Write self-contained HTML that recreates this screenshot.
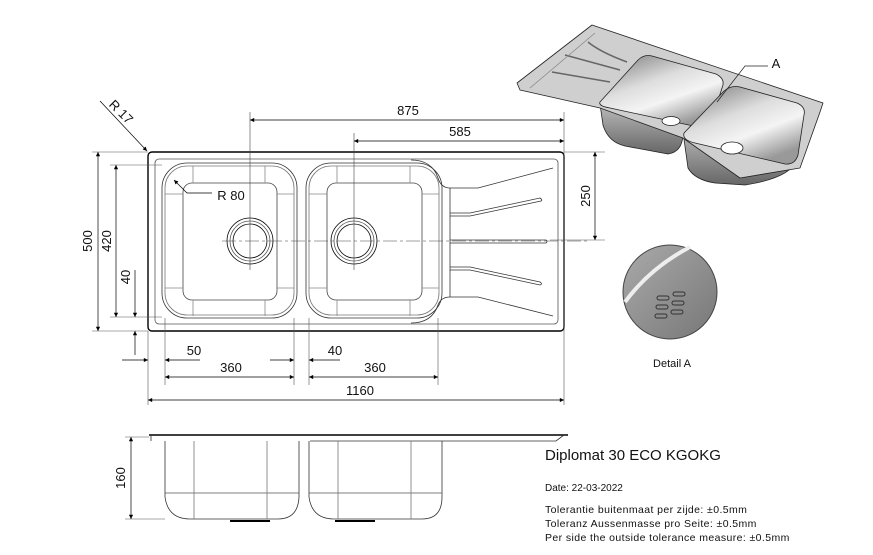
<!DOCTYPE html>
<html><head><meta charset="utf-8"><style>
html,body{margin:0;padding:0;background:#fff;}
svg{display:block;font-family:"Liberation Sans",Arial,sans-serif;}
</style></head><body>
<svg width="873" height="555" viewBox="0 0 873 555" xmlns="http://www.w3.org/2000/svg">
<defs>
<marker id="a" viewBox="0 0 10 10" refX="10" refY="5" markerWidth="9" markerHeight="6" orient="auto-start-reverse"><path d="M0,0 L10,5 L0,10 z" fill="#000"/></marker>
<linearGradient id="gb" x1="0" y1="0" x2="0.6" y2="1"><stop offset="0" stop-color="#777"/><stop offset="0.45" stop-color="#ddd"/><stop offset="0.7" stop-color="#f4f4f4"/><stop offset="1" stop-color="#999"/></linearGradient>
<linearGradient id="gu" x1="0" y1="0" x2="0" y2="1"><stop offset="0" stop-color="#bbb"/><stop offset="1" stop-color="#666"/></linearGradient>
<linearGradient id="gc" x1="0" y1="0" x2="1" y2="1"><stop offset="0" stop-color="#aaa"/><stop offset="1" stop-color="#777"/></linearGradient>
</defs>
<g fill="none" stroke="#000" stroke-width="0.8">
<rect x="148" y="152" width="416" height="179" rx="4" stroke-width="1.4"/>
<rect x="155" y="159" width="403" height="165" rx="4" stroke="#555"/>
<rect x="162" y="163" width="135" height="155" rx="25" stroke="#333"/>
<rect x="165" y="166" width="129" height="149" rx="22" stroke="#777"/>
<rect x="183" y="183" width="94" height="117" rx="9" stroke="#444"/>
<line x1="193" y1="166" x2="193" y2="183" stroke="#888"/><line x1="265" y1="166" x2="265" y2="183" stroke="#888"/>
<line x1="193" y1="300" x2="193" y2="316" stroke="#888"/><line x1="265" y1="300" x2="265" y2="316" stroke="#888"/>
<line x1="165" y1="194" x2="183" y2="194" stroke="#888"/><line x1="165" y1="288" x2="183" y2="288" stroke="#888"/>
<line x1="277" y1="194" x2="294" y2="194" stroke="#888"/><line x1="277" y1="288" x2="294" y2="288" stroke="#888"/>
<circle cx="250" cy="241" r="23"/><circle cx="250" cy="241" r="20" stroke="#555"/><circle cx="250" cy="241" r="17"/>
<rect x="306" y="163" width="136" height="155" rx="25" stroke="#333"/>
<rect x="309" y="166" width="130" height="149" rx="22" stroke="#777"/>
<rect x="327" y="183" width="95" height="117" rx="9" stroke="#444"/>
<line x1="337" y1="166" x2="337" y2="183" stroke="#888"/><line x1="410" y1="166" x2="410" y2="183" stroke="#888"/>
<line x1="337" y1="300" x2="337" y2="316" stroke="#888"/><line x1="410" y1="300" x2="410" y2="316" stroke="#888"/>
<line x1="309" y1="194" x2="327" y2="194" stroke="#888"/><line x1="309" y1="288" x2="327" y2="288" stroke="#888"/>
<line x1="422" y1="194" x2="439" y2="194" stroke="#888"/><line x1="422" y1="288" x2="439" y2="288" stroke="#888"/>
<circle cx="354" cy="241" r="23"/><circle cx="354" cy="241" r="20" stroke="#555"/><circle cx="354" cy="241" r="17"/>
<path d="M411,160 Q432,160 438,178 Q441,188 450,188 L478,188 L553,168 M411,323 Q432,323 438,305 Q441,297 450,297 L478,297 L553,316" stroke="#333"/>
<line x1="450" y1="188" x2="450" y2="297" stroke="#333"/>
<path d="M450,213 L470,213 L540,198 Q543,200 541,201 L470,216 L450,216" stroke="#333"/>
<path d="M450,240 L546,240 Q548,241.5 546,243 L450,243" stroke="#333"/>
<path d="M450,267 L470,267 L540,282 Q543,284 540,285 L470,270 L450,270" stroke="#333"/>
<g stroke="#444" stroke-width="0.6">
<line x1="222" y1="241" x2="590" y2="241" stroke-dasharray="14,3,3,3"/>
<line x1="250" y1="112" x2="250" y2="270"/>
<line x1="354" y1="133" x2="354" y2="270"/>
</g>
<g stroke="#555" stroke-width="0.6">
<line x1="564" y1="112" x2="564" y2="405"/>
<line x1="564" y1="152" x2="605" y2="152"/><line x1="550" y1="240" x2="605" y2="240"/>
<line x1="92" y1="152" x2="148" y2="152"/><line x1="92" y1="331" x2="148" y2="331"/>
<line x1="110" y1="165" x2="162" y2="165"/><line x1="110" y1="317" x2="162" y2="317"/>
<line x1="148" y1="331" x2="148" y2="405"/><line x1="165" y1="318" x2="165" y2="385"/>
<line x1="294" y1="318" x2="294" y2="385"/><line x1="309" y1="318" x2="309" y2="385"/>
<line x1="438" y1="318" x2="438" y2="385"/>
</g>
<g stroke="#000" stroke-width="0.7">
<line x1="250" y1="120" x2="564" y2="120" marker-start="url(#a)" marker-end="url(#a)"/>
<line x1="354" y1="141" x2="564" y2="141" marker-start="url(#a)" marker-end="url(#a)"/>
<line x1="98" y1="152" x2="98" y2="331" marker-start="url(#a)" marker-end="url(#a)"/>
<line x1="116" y1="165" x2="116" y2="317" marker-start="url(#a)" marker-end="url(#a)"/>
<line x1="135" y1="270" x2="135" y2="317" marker-end="url(#a)"/>
<line x1="135" y1="355" x2="135" y2="331" marker-end="url(#a)"/>
<line x1="122" y1="360" x2="148" y2="360" marker-end="url(#a)"/>
<line x1="200" y1="360" x2="165" y2="360" marker-end="url(#a)"/>
<line x1="165" y1="377" x2="294" y2="377" marker-start="url(#a)" marker-end="url(#a)"/>
<line x1="270" y1="360" x2="294" y2="360" marker-end="url(#a)"/>
<line x1="340" y1="360" x2="309" y2="360" marker-end="url(#a)"/>
<line x1="309" y1="377" x2="438" y2="377" marker-start="url(#a)" marker-end="url(#a)"/>
<line x1="148" y1="400" x2="564" y2="400" marker-start="url(#a)" marker-end="url(#a)"/>
<line x1="595" y1="152" x2="595" y2="240" marker-start="url(#a)" marker-end="url(#a)"/>
<line x1="100" y1="101" x2="147" y2="151" marker-end="url(#a)"/>
<path d="M174,180 L187,193 L212,193" marker-start="url(#a)"/>
</g>
<line x1="149" y1="435" x2="568" y2="435" stroke-width="1.5"/>
<path d="M151,435 L151,441 M564,435 L556,441 L310,441 M165,441 L165,497 Q168,519 190,519 L278,519 Q298,519 299,497 L299,441 M309,441 L309,497 Q312,519 334,519 L422,519 Q442,519 442,497 L442,441" stroke="#333"/>
<line x1="165" y1="493" x2="299" y2="493" stroke="#555"/><line x1="309" y1="493" x2="442" y2="493" stroke="#555"/>
<line x1="194" y1="441" x2="194" y2="519" stroke="#777"/><line x1="267" y1="441" x2="267" y2="519" stroke="#777"/>
<line x1="338" y1="441" x2="338" y2="519" stroke="#777"/><line x1="411" y1="441" x2="411" y2="519" stroke="#777"/>
<line x1="230" y1="521" x2="270" y2="521" stroke-width="2"/><line x1="335" y1="521" x2="375" y2="521" stroke-width="2"/>
<line x1="125" y1="437" x2="149" y2="437" stroke="#555" stroke-width="0.6"/><line x1="125" y1="519" x2="165" y2="519" stroke="#555" stroke-width="0.6"/>
<line x1="131" y1="437" x2="131" y2="519" stroke-width="0.7" marker-start="url(#a)" marker-end="url(#a)"/>
</g>
<!-- iso view -->
<g stroke="#222" stroke-width="0.8" stroke-linejoin="round">
<path d="M600,104 L603,125 Q608,142 625,146 L668,154 Q682,152 683,135 L690,110 Z" fill="url(#gu)"/>
<path d="M683,132 L688,168 Q695,180 715,183 L745,185 Q790,178 797,160 L805,130 Z" fill="url(#gu)"/>
<path d="M517,83 L592,25 L823,103 L820,112 L800,168 L740,178 L683,138 L600,108 L520,90 Z" fill="#cfcfcf"/>
<path d="M600,102 L638,60 Q644,54 652,56 L716,74 Q726,79 722,88 L712,120 Q708,128 698,127 L610,108 Q598,106 600,102 Z" fill="url(#gb)"/>
<path d="M684,133 L724,91 Q731,85 740,87 L797,103 Q806,107 804,115 L798,155 Q795,165 785,164 L695,143 Q682,140 684,133 Z" fill="url(#gb)"/>
<path d="M588,42 Q600,52 627,62 M565,55 L620,70 M552,72 L610,82" stroke="#666" stroke-width="1.5" fill="none"/>
<path d="M530,88 L595,33" stroke="#888" fill="none"/>
<ellipse cx="671" cy="121" rx="9" ry="4.5" fill="#fff"/>
<ellipse cx="732" cy="148" rx="11" ry="6" fill="#fff"/>
<path d="M717,102 L745,66 L768,66" fill="none" stroke-width="0.7"/>
</g>
<circle cx="670" cy="292" r="47" fill="url(#gc)" stroke="#444"/>
<path d="M625,302 Q650,268 690,247" stroke="#eee" stroke-width="4" fill="none"/>
<g stroke="#333" fill="none" stroke-width="1"><rect x="657" y="296" width="12" height="4" rx="2"/><rect x="673" y="292" width="12" height="4" rx="2"/><rect x="656" y="305" width="12" height="4" rx="2"/><rect x="672" y="301" width="12" height="4" rx="2"/><rect x="655" y="314" width="12" height="4" rx="2"/><rect x="671" y="310" width="12" height="4" rx="2"/></g>
<g font-size="13" fill="#111" text-anchor="middle">
<text x="408" y="115">875</text>
<text x="460" y="136">585</text>
<text x="360" y="395">1160</text>
<text x="194" y="355">50</text>
<text x="231" y="372">360</text>
<text x="335" y="355">40</text>
<text x="375" y="372">360</text>
<text x="92" y="241" transform="rotate(-90 92 241)">500</text>
<text x="111" y="241" transform="rotate(-90 111 241)">420</text>
<text x="130" y="277" transform="rotate(-90 130 277)">40</text>
<text x="590" y="196" transform="rotate(-90 590 196)">250</text>
<text x="125" y="478" transform="rotate(-90 125 478)">160</text>
<text x="118" y="115" transform="rotate(45 118 115)">R 17</text>
<text x="231" y="200">R 80</text>
<text x="776" y="68">A</text>
<text x="672" y="367" font-size="11">Detail A</text>
</g>
<g fill="#111" font-size="11">
<text x="545" y="460" font-size="15">Diplomat 30 ECO KGOKG</text>
<text x="545" y="491" font-size="10">Date: 22-03-2022</text>
<text x="545" y="513" font-size="10.5" letter-spacing="0.4">Tolerantie buitenmaat per zijde: ±0.5mm</text>
<text x="545" y="527" font-size="10.5" letter-spacing="0.4">Toleranz Aussenmasse pro Seite: ±0.5mm</text>
<text x="545" y="541" font-size="10.5" letter-spacing="0.4">Per side the outside tolerance measure: ±0.5mm</text>
</g>
</svg>
</body></html>
